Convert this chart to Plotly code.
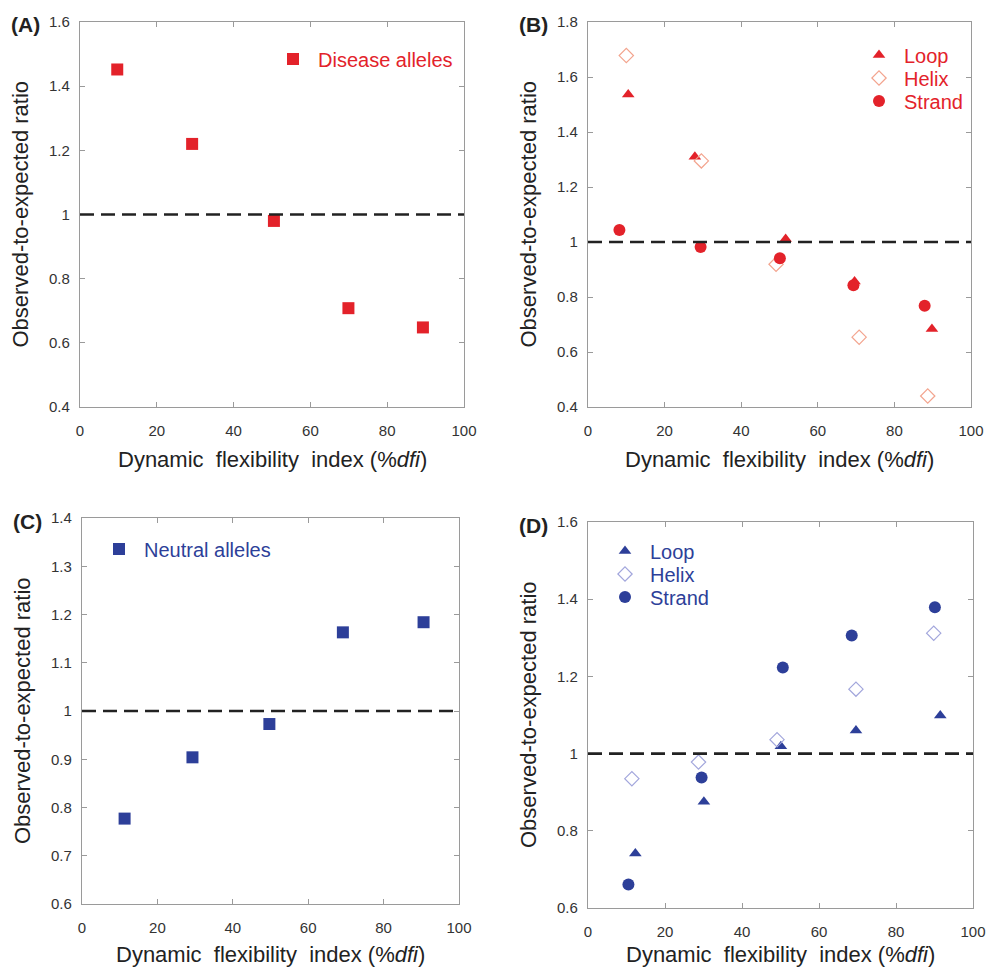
import plotly.graph_objects as go
from plotly.subplots import make_subplots

# ---------------- data ----------------
dis_x = [9.7, 29.2, 50.5, 69.9, 89.3]
dis_y = [1.452, 1.22, 0.98, 0.708, 0.648]

dloop_x = [10.5, 27.9, 51.6, 69.6, 89.8]
dloop_y = [1.536, 1.31, 1.011, 0.856, 0.684]
dhelix_x = [10.0, 29.6, 49.1, 70.8, 88.7]
dhelix_y = [1.678, 1.295, 0.919, 0.654, 0.44]
dstrand_x = [8.2, 29.4, 50.1, 69.3, 87.9]
dstrand_y = [1.044, 0.982, 0.941, 0.843, 0.768]

neu_x = [11.3, 29.3, 49.7, 69.2, 90.6]
neu_y = [0.777, 0.904, 0.973, 1.163, 1.184]

nloop_x = [12.3, 30.1, 50.1, 69.6, 91.5]
nloop_y = [0.741, 0.875, 1.019, 1.06, 1.099]
nhelix_x = [11.4, 28.7, 49.1, 69.6, 89.8]
nhelix_y = [0.935, 0.978, 1.036, 1.167, 1.312]
nstrand_x = [10.5, 29.5, 50.6, 68.5, 90.1]
nstrand_y = [0.661, 0.938, 1.223, 1.306, 1.379]

ref_ratio = 1.0
x_range = [0, 100]
y_ranges = {"A": [0.4, 1.6], "B": [0.4, 1.8], "C": [0.6, 1.4], "D": [0.6, 1.6]}
y_dticks = {"A": 0.2, "B": 0.2, "C": 0.1, "D": 0.2}
panel_labels = ["(A)", "(B)", "(C)", "(D)"]
x_title = "Dynamic\u00a0 flexibility\u00a0 index (%<i>dfi</i>)"
y_title = "Observed-to-expected ratio"

# ---------------- styles ----------------
RED = "#e3222a"
RED_LIGHT = "#f3a48e"
BLUE = "#2d3f99"
BLUE_LIGHT = "#a2a6dc"
FONT = "Arial, Liberation Sans, sans-serif"
W, H = 987, 972

fig = make_subplots(rows=2, cols=2)

# (trace data, row, col, name, marker, legend id, legend marker center px (x, y), text colour)
series = [
    (dis_x, dis_y, 1, 1, "Disease alleles", dict(symbol="square", size=12, color=RED),
     "legend", (293, 59), RED),
    (dloop_x, dloop_y, 1, 2, "Loop", dict(symbol="triangle-up", size=11, color=RED),
     "legend2", (879, 55), RED),
    (dhelix_x, dhelix_y, 1, 2, "Helix",
     dict(symbol="diamond-open", size=11, color=RED_LIGHT, line=dict(width=1.2)),
     "legend3", (879, 78), RED),
    (dstrand_x, dstrand_y, 1, 2, "Strand", dict(symbol="circle", size=12, color=RED),
     "legend4", (879, 101), RED),
    (neu_x, neu_y, 2, 1, "Neutral alleles", dict(symbol="square", size=12, color=BLUE),
     "legend5", (119, 549), BLUE),
    (nloop_x, nloop_y, 2, 2, "Loop", dict(symbol="triangle-up", size=11, color=BLUE),
     "legend6", (625, 551), BLUE),
    (nhelix_x, nhelix_y, 2, 2, "Helix",
     dict(symbol="diamond-open", size=11, color=BLUE_LIGHT, line=dict(width=1.2)),
     "legend7", (625, 574), BLUE),
    (nstrand_x, nstrand_y, 2, 2, "Strand", dict(symbol="circle", size=12, color=BLUE),
     "legend8", (625, 597), BLUE),
]

legends = {}
for xs, ys, r, c, name, mk, leg, (lx, ly), tcol in series:
    fig.add_trace(go.Scatter(x=xs, y=ys, mode="markers", name=name, marker=mk,
                             legend=leg), row=r, col=c)
    legends[leg] = dict(bgcolor="rgba(0,0,0,0)", borderwidth=0, xanchor="left",
                        yanchor="middle", itemclick=False, itemwidth=40,
                        x=(lx - 25) / W, y=1 - ly / H,
                        font=dict(family=FONT, size=20, color=tcol))

# domains in pixels (left, right, top, bottom) and x-title centre y
px = {"A": (80, 464, 22, 407), "B": (588, 971, 22, 407),
      "C": (82, 459, 518, 904), "D": (588, 973, 522, 908)}
xtitle_y = {"A": 460, "B": 460, "C": 954, "D": 954}
axis_ids = {"A": ("xaxis", "yaxis", "x", "y"), "B": ("xaxis2", "yaxis2", "x2", "y2"),
            "C": ("xaxis3", "yaxis3", "x3", "y3"), "D": ("xaxis4", "yaxis4", "x4", "y4")}

common_axis = dict(showline=True, linecolor="#9a9a9a", linewidth=1.2, mirror="ticks",
                   ticks="inside", ticklen=5, tickcolor="#9a9a9a", tickwidth=1.2,
                   showgrid=False, zeroline=False, automargin=False,
                   tickfont=dict(family=FONT, size=15, color="#333333"))

layout_upd = {}
annotations = []
shapes = []
for i, k in enumerate(["A", "B", "C", "D"]):
    l, r, t, b = px[k]
    xa, ya, xr, yr = axis_ids[k]
    layout_upd[xa] = dict(common_axis, domain=[l / W, r / W], range=x_range, dtick=20,
                          tick0=0, ticklabelstandoff=10)
    layout_upd[ya] = dict(common_axis, domain=[1 - b / H, 1 - t / H], range=y_ranges[k],
                          dtick=y_dticks[k], ticklabelstandoff=6)
    shapes.append(dict(type="line", xref=xr, yref=yr, x0=x_range[0], x1=x_range[1],
                       y0=ref_ratio, y1=ref_ratio,
                       line=dict(color="#222222", width=2.6, dash="14px,7px")))
    annotations.append(dict(text=x_title, xref="paper", yref="paper",
                            x=(l + r) / 2 / W, y=1 - xtitle_y[k] / H,
                            xanchor="center", yanchor="middle", showarrow=False,
                            font=dict(family=FONT, size=22, color="#222222")))
    annotations.append(dict(text=y_title, xref="paper", yref="paper",
                            x=(l - 60) / W, y=1 - (t + b) / 2 / H, textangle=-90,
                            xanchor="center", yanchor="middle", showarrow=False,
                            font=dict(family=FONT, size=22, color="#222222")))
    annotations.append(dict(text="<b>" + panel_labels[i] + "</b>", xref="paper", yref="paper",
                            x=(l - 71) / W, y=1 - (t + 3) / H,
                            xanchor="left", yanchor="middle", showarrow=False,
                            font=dict(family=FONT, size=21, color="#222222")))

fig.update_layout(
    **layout_upd,
    **legends,
    shapes=shapes,
    annotations=annotations,
    width=W, height=H,
    margin=dict(l=0, r=0, t=0, b=0, autoexpand=False),
    paper_bgcolor="white", plot_bgcolor="white",
    showlegend=True,
)

fig.write_html("out.html")
